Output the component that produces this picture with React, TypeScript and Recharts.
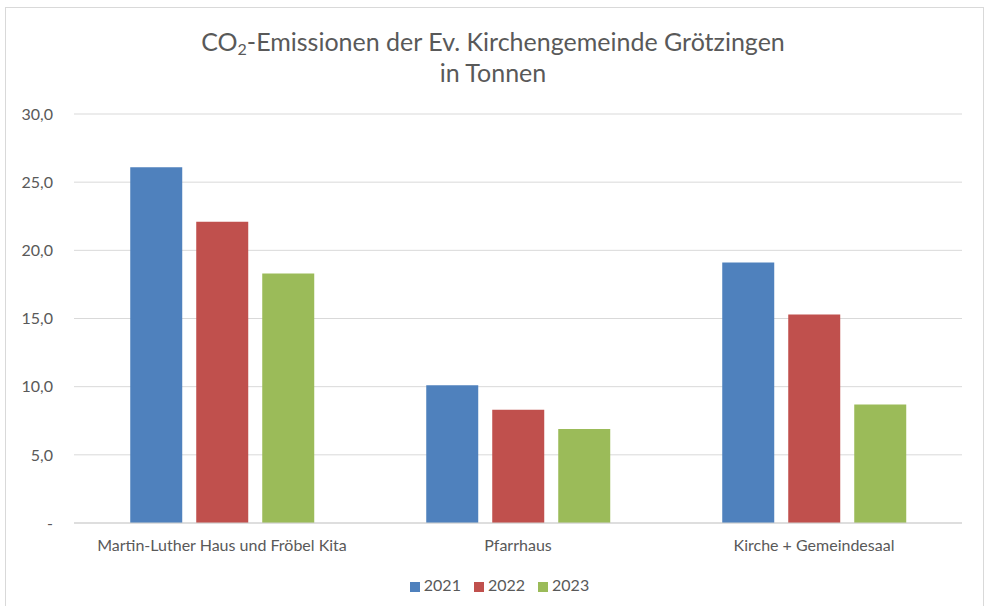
import { BarChart, Bar, XAxis, YAxis, CartesianGrid, Legend } from 'recharts';

const categories = ['Martin-Luther Haus und Fröbel Kita', 'Pfarrhaus', 'Kirche + Gemeindesaal'];
const values2021 = [26.1, 10.1, 19.1];
const values2022 = [22.1, 8.3, 15.3];
const values2023 = [18.3, 6.9, 8.7];
const yTicks = [0, 5, 10, 15, 20, 25, 30];

const data = categories.map((name, i) => ({
  name,
  '2021': values2021[i],
  '2022': values2022[i],
  '2023': values2023[i],
}));

const font = 'Lato, "Open Sans", sans-serif';
const grey = '#595959';

const fmt = (v: number) => (v === 0 ? '-' : v.toFixed(1).replace('.', ','));

export default function App() {
  return (
    <div style={{ position: 'absolute', left: 0, top: 0, width: 986, height: 606, background: '#fff', overflow: 'hidden', fontFamily: font }}>
      <div style={{ position: 'absolute', left: 5, top: 7, width: 977, height: 640, border: '1px solid #d9d9d9' }} />
      <div style={{ position: 'absolute', left: 0, top: 26, width: 986, textAlign: 'center', color: grey, fontSize: 25, lineHeight: '31px', paddingLeft: 0 }}>
        <div>
          CO<sub style={{ fontSize: 16, verticalAlign: -4, lineHeight: 0 }}>2</sub>-Emissionen der Ev. Kirchengemeinde Grötzingen
        </div>
        <div>in Tonnen</div>
      </div>
      <div style={{ position: 'absolute', left: 0, top: 0 }}>
        <BarChart
          width={986}
          height={606}
          data={data}
          margin={{ top: 114, right: 24, bottom: 34, left: 0 }}
          barGap={14}
          barCategoryGap="19%"
        >
          <CartesianGrid vertical={false} stroke="#d9d9d9" strokeWidth={1} />
          <XAxis
            dataKey="name"
            height={30}
            tickLine={false}
            axisLine={{ stroke: '#d0d0d0' }}
            tickMargin={11}
            tick={{ fill: grey, fontSize: 16, fontFamily: font }}
          />
          <YAxis
            width={74}
            domain={[0, 30]}
            ticks={yTicks}
            tickFormatter={fmt}
            tickLine={false}
            axisLine={false}
            tickSize={0}
            tickMargin={21}
            tick={{ fill: grey, fontSize: 16, fontFamily: font }}
          />
          <Legend
            verticalAlign="bottom"
            align="center"
            iconType="square"
            iconSize={10}
            wrapperStyle={{ bottom: 12, left: 25, fontSize: 16, fontFamily: font, color: grey }}
            formatter={(value) => <span style={{ color: grey, marginRight: 3 }}>{value}</span>}
          />
          <Bar dataKey="2021" fill="#4F81BD" isAnimationActive={false} />
          <Bar dataKey="2022" fill="#C0504D" isAnimationActive={false} />
          <Bar dataKey="2023" fill="#9BBB59" isAnimationActive={false} />
        </BarChart>
      </div>
    </div>
  );
}
